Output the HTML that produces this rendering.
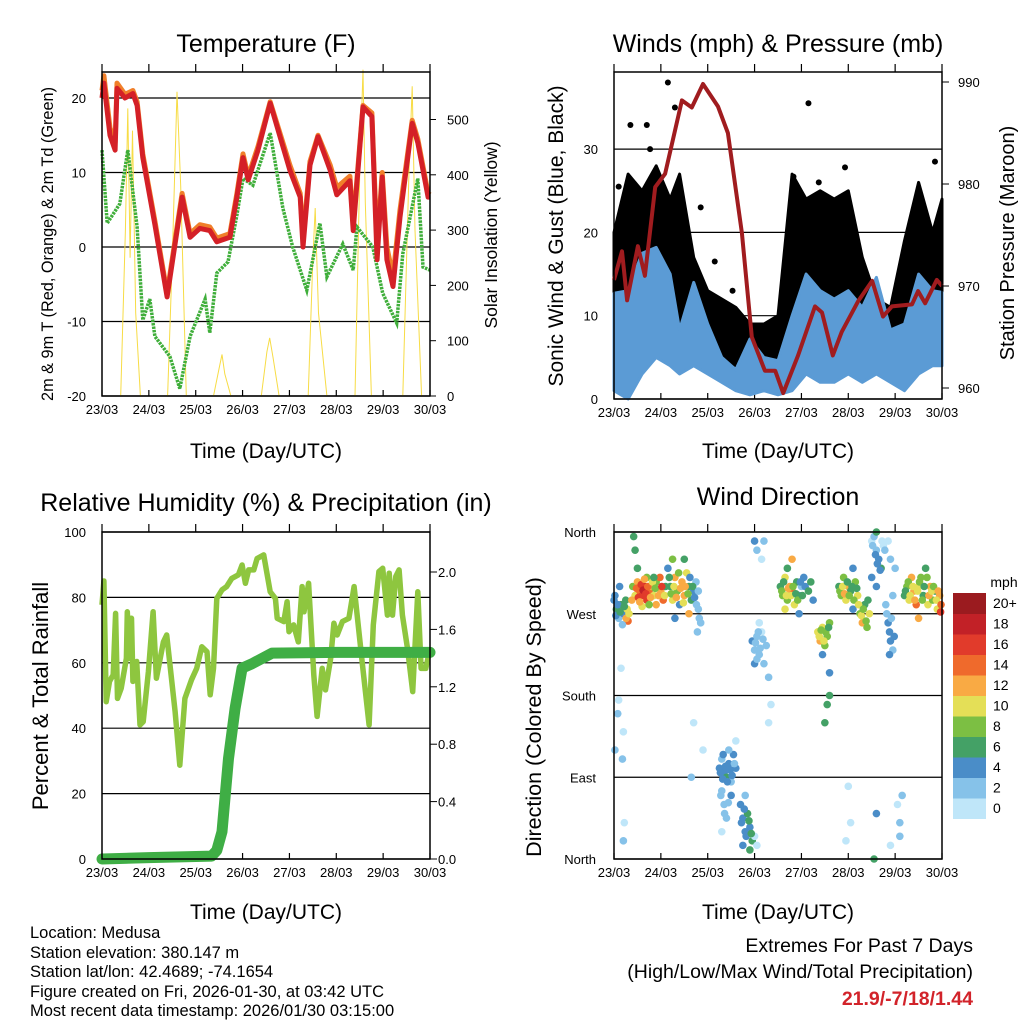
<!DOCTYPE html>
<html><head><meta charset="utf-8">
<style>
html,body{margin:0;padding:0;background:#fff;}
svg{display:block;font-family:"Liberation Sans",sans-serif;}
</style></head>
<body>
<svg id="fig" width="1024" height="1024" viewBox="0 0 1024 1024">
<rect x="0" y="0" width="1024" height="1024" fill="#fff"/>
<g id="layer"></g>
<g font-size="25" text-anchor="middle" fill="#000">
 <text x="266" y="52">Temperature (F)</text>
 <text x="778" y="52">Winds (mph) &amp; Pressure (mb)</text>
 <text x="266" y="511">Relative Humidity (%) &amp; Precipitation (in)</text>
 <text x="778" y="505">Wind Direction</text>
</g>
<g font-size="21" text-anchor="middle">
 <text x="266" y="458">Time (Day/UTC)</text>
 <text x="778" y="458">Time (Day/UTC)</text>
 <text x="266" y="919">Time (Day/UTC)</text>
 <text x="778" y="919">Time (Day/UTC)</text>
 <text transform="translate(53,244) rotate(-90)" font-size="16.3">2m &amp; 9m T (Red, Orange) &amp; 2m Td (Green)</text>
 <text transform="translate(497,235) rotate(-90)" font-size="17.5">Solar Insolation (Yellow)</text>
 <text transform="translate(563,236) rotate(-90)">Sonic Wind &amp; Gust (Blue, Black)</text>
 <text transform="translate(1014,243) rotate(-90)" font-size="20">Station Pressure (Maroon)</text>
 <text transform="translate(48,696) rotate(-90)" font-size="22">Percent &amp; Total Rainfall</text>
 <text transform="translate(541,717) rotate(-90)" font-size="21.5">Direction (Colored By Speed)</text>
</g>
<g font-size="16.5">
 <text x="30" y="938">Location: Medusa</text>
 <text x="30" y="958">Station elevation: 380.147 m</text>
 <text x="30" y="977">Station lat/lon: 42.4689; -74.1654</text>
 <text x="30" y="997">Figure created on Fri, 2026-01-30, at 03:42 UTC</text>
 <text x="30" y="1016">Most recent data timestamp: 2026/01/30 03:15:00</text>
</g>
<g font-size="19.5" text-anchor="end">
 <text x="973" y="952">Extremes For Past 7 Days</text>
 <text x="973" y="978">(High/Low/Max Wind/Total Precipitation)</text>
 <text x="973" y="1005" fill="#d2232a" font-weight="bold">21.9/-7/18/1.44</text>
</g>
</svg>
<script>
// ---------- data ----------
const dayLabels=['23/03','24/03','25/03','26/03','27/03','28/03','29/03','30/03'];
// Temperature (days since 23/03 00 UTC)
const tT=[0,0.04,0.17,0.28,0.32,0.49,0.66,0.75,0.87,1.13,1.39,1.71,1.88,2.09,2.3,2.45,2.73,2.88,3.01,3.12,3.33,3.59,4.01,4.23,4.29,4.44,4.61,4.87,5.01,5.29,5.36,5.57,5.76,5.87,5.98,6.08,6.21,6.36,6.62,6.74,6.96,7.0];
const tRed=[20,22,15,13,21.3,20,20.6,19,12,3,-6.7,6.7,1.3,2.5,2.2,0.7,1.3,6.7,12,9,13,19.3,10.3,6.7,0,11,14.8,10.3,7,8.9,2.2,18.8,17.5,-1.7,9.4,-1.7,-5.3,4,16.6,14,6.7,6.7];
const tOrange=[21,23,16,14,22,20.5,21,19.5,12.5,3.5,-6.2,7.2,1.8,3,2.7,1.2,1.8,7.2,12.5,9.5,13.5,19.5,11,7.2,1,11.5,15,11,8,9.5,3,19,18,0,10,0,-4,5,17,14.5,7.2,7];
const tdT=[0,0.11,0.38,0.55,0.75,0.87,1.02,1.13,1.45,1.66,1.88,2.2,2.3,2.45,2.69,2.88,3.01,3.22,3.59,3.86,4.07,4.37,4.65,4.8,5.14,5.36,5.44,5.78,5.99,6.29,6.42,6.74,6.85,7.0];
const tdV=[13,3.2,5.8,13,2.7,-9.8,-7,-12,-14.7,-19,-12,-7,-11.5,-3.5,-2,4.3,9.2,8.3,15.3,5.2,0,-5.8,3.2,-4,0.4,-3.1,2.7,0,-6.2,-10.2,-0.9,9.2,-2.7,-3.1];
const solT=[0,0.4,0.5,0.55,0.6,0.65,0.72,0.82,1.4,1.5,1.6,1.68,1.8,2.38,2.5,2.56,2.62,2.75,3.4,3.52,3.58,3.65,3.78,4.4,4.5,4.55,4.62,4.8,5.4,5.5,5.57,5.62,5.75,6.42,6.55,6.62,6.68,6.82,7.0];
const solV=[0,0,300,520,250,480,150,0,0,250,550,380,0,0,50,75,40,0,0,80,105,70,0,0,250,340,150,0,0,400,590,350,0,0,400,560,300,0,0];
// Winds
const prT=[0,0.17,0.28,0.51,0.66,0.88,1.09,1.45,1.66,1.9,2.22,2.43,2.73,2.94,3.22,3.44,3.61,3.93,4.29,4.44,4.67,4.86,5.21,5.51,5.74,5.93,6.36,6.49,6.64,6.89,7.0];
const prV=[970.6,973.4,968.6,973.9,971,979.7,981,988.2,987.5,989.8,987.6,985,975.2,965,961.7,961.7,959.5,963.2,968,967.4,963.2,965.5,968.5,970.5,967,968,968.2,969.5,968.3,970.6,970];
const wT=[0,0.3,0.6,0.9,1.2,1.4,1.7,2.0,2.3,2.6,2.9,3.2,3.5,3.8,4.1,4.4,4.7,5.0,5.3,5.6,5.9,6.2,6.5,6.8,7.0];
const windHi=[12.7,13,17.5,18.2,15,8.3,14,9,5,3.5,7.2,5,4.6,10,15,13,12,13,11,14.6,8.3,9,15,13,12.8];
const windLo=[1,0,3,5,4,3,4,3,2,1,0.5,1,0.5,1,3,2,2,3,2,3,2,1,3,4,4];
const gustHi=[20,27,25,28,24,27,17,13,12,11,9,9,10,27,24,25,24,25,17,12,11,19,26,20,24];
const gustLo=[8,11,14,14,12,9,11,6,5,4,5,3,4,10,12,11,10,10,9,11,7,6,12,10,10];
const gOutT=[0.35,0.7,1.15,0.77,2.53,4.15,3.83,4.37,4.93,6.85,0.1,1.3,2.15,1.85];
const gOutV=[32.9,32.9,38,30,13,35.5,26.7,26,27.8,28.5,25.5,35,16.5,23];
// Relative humidity & rain
const rhT=[0,.04,.09,.16,.24,.29,.33,.41,.52,.54,
.59,.63,.66,.74,.81,.88,.99,1.09,1.16,1.31,
1.38,1.56,1.66,1.77,1.91,2.02,2.13,2.24,2.31,2.38,
2.45,2.56,2.66,2.77,2.91,2.99,3.06,3.13,3.24,3.31,
3.45,3.59,3.7,3.74,3.88,3.95,3.99,4.09,4.19,4.27,
4.31,4.41,4.52,4.59,4.7,4.77,4.88,4.95,5.02,5.13,
5.27,5.38,5.56,5.7,5.79,5.91,5.99,6.09,6.13,6.2,
6.27,6.34,6.41,6.52,6.63,6.74,6.81,6.91,7.0];
const rhV=[77.7,85,48.1,54.3,56.3,75.1,49.1,52.2,61.4,75.6,
61.4,73.6,54.3,60.4,41,42,57.3,75.6,55.3,66.4,
68.5,45.1,28.7,49.1,54.8,58.3,64.9,63.4,50.2,58.3,
79.7,82.3,83.3,85.8,86.9,89.9,84.3,88.4,88.4,91.9,
93,81.7,79.7,73.6,72.6,78.7,69.5,71.6,66.4,83.3,
75.6,84.3,56.3,43.6,58.3,51.7,61.4,72.1,68.5,72.6,
73.6,83.3,59.3,41,71.6,87.9,88.9,74.6,87.4,74.6,
86.4,88.4,74.6,64.4,51.2,81.7,58.3,58.3,64.4];
const rainT=[0,1.0,2.34,2.45,2.56,2.7,2.84,2.99,3.2,3.63,5,7];
const rainV=[0,0.01,0.02,0.06,0.19,0.7,1.05,1.33,1.36,1.435,1.44,1.44];
// Wind direction scatter
const wdT=[0.02,0.05,0.1,0.15,0.2,0.25,0.3,0.28,0.12,0.18,
0.4,0.45,0.5,0.55,0.6,0.65,0.7,0.75,0.8,0.85,0.9,1.0,1.05,0.5,0.45,0.42,0.6,0.7,0.9,1.1,
1.15,1.2,1.25,1.3,1.35,1.4,1.45,1.5,1.55,1.6,1.65,1.7,1.75,1.8,1.85,1.25,1.5,1.6,1.78,1.3,
0.08,0.15,0.2,0.18,0.22,0.2,0.02,0.1,1.7,1.9,1.65,
2.95,3.0,3.05,3.1,3.15,3.2,3.25,3.1,3.0,3.3,3.35,3.3,3.0,3.05,3.15,3.2,
2.25,2.3,2.35,2.4,2.45,2.5,2.55,2.6,2.3,2.35,2.4,2.3,2.5,2.45,2.6,
2.7,2.75,2.8,2.85,2.9,2.95,2.8,2.9,3.0,3.05,
3.55,3.6,3.65,3.7,3.75,3.8,3.85,3.9,3.95,4.0,4.05,3.7,3.8,3.65,3.95,
4.35,4.4,4.45,4.5,4.55,4.6,4.45,4.6,4.6,4.55,4.5,
4.8,4.85,4.9,4.95,5.0,5.05,5.1,5.15,5.2,5.25,5.3,5.35,5.4,5.45,5.1,
5.5,5.55,5.6,5.65,5.7,5.5,5.6,5.75,5.85,5.9,5.8,5.85,5.9,5.95,5.95,6.0,5.6,
6.2,6.25,6.3,6.35,6.4,6.45,6.5,6.55,6.6,6.65,6.7,6.75,6.8,6.85,6.9,6.95,6.97,6.5,
6.05,6.1,6.15,6.1,5.9,5.6,5.55,5.0,5.05,4.95];
const wdD=[290,275,265,280,270,285,262,275,300,258,
300,290,305,295,290,300,285,295,300,290,305,295,285,320,340,355,278,310,280,300,
320,300,285,310,295,280,305,290,315,300,285,295,305,275,260,330,330,270,250,265,
160,210,140,110,40,20,120,175,150,120,90,
240,230,245,225,250,215,235,260,215,200,170,150,350,340,330,350,
100,110,95,90,105,85,115,100,75,60,45,30,70,120,130,
60,45,30,50,35,20,70,10,25,15,
300,290,310,285,300,295,280,305,290,300,310,320,330,275,270,
250,240,255,235,245,260,225,205,180,170,150,
300,290,310,285,300,295,275,305,290,270,260,280,255,270,320,
350,355,340,330,320,310,300,345,350,330,280,260,240,290,230,320,360,
290,300,285,310,295,280,300,310,290,320,280,300,285,295,275,290,272,265,
60,40,70,25,15,50,0,80,40,20];
const wdS=[4,6,3,7,5,6,14,10,5,3,
8,10,12,14,16,18,17,15,12,10,8,12,14,6,7,6,11,9,13,7,
5,7,10,12,8,4,13,12,10,6,7,4,3,2,2,9,6,12,3,4,
2,1,1,3,1,2,3,1,1,1,3,
4,2,3,2,1,3,2,1,4,2,1,1,4,3,1,2,
4,3,4,6,4,3,4,5,2,2,2,1,4,2,1,
4,5,4,6,5,6,3,6,1,1,
6,8,10,8,12,14,10,6,4,3,4,7,12,10,5,
10,12,10,8,9,8,4,4,6,6,6,
6,9,8,10,12,6,4,8,10,9,12,6,8,10,5,
1,2,3,4,6,5,4,1,1,2,2,4,4,3,2,2,6,
6,8,10,12,12,14,10,8,6,7,10,12,9,6,11,13,16,12,
1,2,3,2,1,4,7,1,1,1];
const wdT2=[0.38,0.48,0.52,0.58,0.62,0.68,0.72,0.78,0.82,0.88,0.95,0.98,1.02,1.08,0.55,0.65,0.75,0.85,
0.0,0.04,0.08,0.13,0.22,0.26,0.32,
1.18,1.22,1.28,1.33,1.38,1.42,1.48,1.52,1.58,1.62,1.68,1.72,1.76,1.82,1.8,
2.27,2.32,2.38,2.42,2.48,2.52,2.57,2.33,2.28,2.36,2.44,
2.72,2.78,2.82,2.88,2.93,2.75,
3.02,3.08,3.12,3.18,3.05,
3.58,3.62,3.68,3.72,3.78,3.82,3.88,3.92,3.98,4.02,4.08,4.15,4.2,4.25,
4.38,4.42,4.48,4.52,4.58,
4.82,4.88,4.92,4.98,5.02,5.08,5.12,5.18,5.22,5.28,5.32,5.38,5.42,
5.52,5.58,5.62,5.68,5.72,5.78,5.82,5.88,5.92,5.98,5.88,
6.22,6.28,6.32,6.38,6.42,6.48,6.52,6.58,6.62,6.68,6.72,6.78,6.82,6.88,6.92,6.98];
const wdD2=[285,298,288,302,296,292,300,288,305,298,290,310,300,290,283,308,280,310,
285,268,280,272,278,265,270,
310,292,300,288,315,298,282,300,292,310,300,288,280,265,295,
95,88,102,85,98,92,105,115,70,50,62,
40,55,25,42,28,15,
238,250,232,242,220,
295,305,290,298,290,300,292,285,305,290,300,295,305,285,
245,252,240,250,255,
295,300,292,305,290,300,285,298,280,268,275,262,285,
345,335,325,318,350,340,270,250,265,245,225,
295,305,290,300,285,295,305,285,300,310,290,295,300,285,295,280];
const wdS2=[12,14,16,17,18,16,15,13,11,9,12,14,16,10,13,12,9,7,
5,4,5,7,6,12,11,
6,8,11,13,9,12,11,13,8,5,6,4,3,2,3,
4,5,4,4,5,4,3,4,2,3,3,
4,5,4,6,6,4,
2,2,3,2,3,
8,7,10,12,10,8,6,8,4,6,5,6,7,5,
11,9,10,8,6,
8,10,12,6,8,7,9,6,11,10,8,9,6,
3,4,5,4,1,2,3,4,3,4,4,
7,9,11,10,12,11,9,8,6,9,12,11,8,10,12,14];
const cbLabels=['0','2','4','6','8','10','12','14','16','18','20+'];
const cbColors=['#bfe6f9','#86c2e9','#4a8dc8','#44a166','#7cbf43','#e4df57','#f9aa44','#ef6a2c','#e13b2b','#c22127','#9b1b1f'];

// ---------- helpers ----------
const NS='http://www.w3.org/2000/svg';
const layer=document.getElementById('layer');
function mk(tag,attrs,parent){const e=document.createElementNS(NS,tag);for(const k in attrs)e.setAttribute(k,attrs[k]);(parent||layer).appendChild(e);return e;}
const P1={x0:102,x1:430,y0:72,y1:396};
const P2={x0:614,x1:942,y0:72,y1:399};
const P3={x0:102,x1:430,y0:532,y1:859};
const P4={x0:614,x1:942,y0:532,y1:859};
function X(p,d){return p.x0+(p.x1-p.x0)*d/7;}
const yTemp=v=>247-7.45*v;
const ySol=v=>396-0.553*v;
const yWind=v=>399-8.33*v;
const yPres=v=>388-10.2*(v-960);
const yRH=v=>859-3.27*v;
const yRain=v=>859-143.5*v;
const yDir=v=>859-v*327/360;
function pathOf(p,ts,vs,f){return ts.map((t,i)=>(i?'L':'M')+X(p,t).toFixed(1)+','+f(vs[i]).toFixed(1)).join('');}
function band(p,ts,hi,lo,f){let s=ts.map((t,i)=>(i?'L':'M')+X(p,t).toFixed(1)+','+f(hi[i]).toFixed(1)).join('');for(let i=ts.length-1;i>=0;i--)s+='L'+X(p,ts[i]).toFixed(1)+','+f(lo[i]).toFixed(1);return s+'Z';}

function frame(p,name){
  const g=mk('g',{});
  
  
  dayLabels.forEach((lab,i)=>{
    const x=X(p,i);
    mk('line',{x1:x,x2:x,y1:p.y1,y2:p.y1-6,stroke:'#000','stroke-width':1.2},g);
    mk('line',{x1:x,x2:x,y1:p.y0,y2:p.y0-8,stroke:'#000','stroke-width':1.2},g);
    const t=mk('text',{x:x,y:p.y1+18,'font-size':13,'text-anchor':'middle'},g);
    t.textContent=lab;
    
    
  });
  return g;
}
function hgrid(p,y){mk('line',{x1:p.x0,x2:p.x1,y1:y,y2:y,stroke:'#000','stroke-width':1.2});}
function border(p,name){const r=mk('rect',{x:p.x0,y:p.y0,width:p.x1-p.x0,height:p.y1-p.y0,fill:'none',stroke:'#000','stroke-width':1.5});
  
  }
function lab(x,y,txt,anchor,name){const t=mk('text',{x:x,y:y,'font-size':13,'text-anchor':anchor});t.textContent=txt;
  
  }

// ---------- Panel 1: temperature ----------
frame(P1,'temperature');
[-20,-10,0,10,20].forEach(v=>{hgrid(P1,yTemp(v));lab(P1.x0-16,yTemp(v)+5,String(v),'end','temp-y-tick-label');});
[0,100,200,300,400,500].forEach(v=>{mk('line',{x1:P1.x1,x2:P1.x1+6,y1:ySol(v),y2:ySol(v),stroke:'#000'});lab(P1.x1+17,ySol(v)+5,String(v),'start','solar-y-tick-label');});
const sol=mk('path',{d:pathOf(P1,solT,solV,ySol),fill:'none',stroke:'#f7dc45','stroke-width':1});


const td=mk('path',{d:pathOf(P1,tdT,tdV,yTemp),fill:'none',stroke:'#3fae3a','stroke-width':3.5,'stroke-dasharray':'2.5 1'});


const tor=mk('path',{d:pathOf(P1,tT,tOrange,yTemp),fill:'none',stroke:'#f07f2a','stroke-width':5,'stroke-linejoin':'round'});


const tr=mk('path',{d:pathOf(P1,tT,tRed,yTemp),fill:'none',stroke:'#d42027','stroke-width':5,'stroke-linejoin':'round'});


border(P1,'temperature');

// ---------- Panel 2: winds ----------
frame(P2,'winds');
[0,10,20,30].forEach(v=>{hgrid(P2,yWind(v));lab(P2.x0-16,yWind(v)+5,String(v),'end','wind-y-tick-label');});
[960,970,980,990].forEach(v=>{mk('line',{x1:P2.x1,x2:P2.x1+7,y1:yPres(v),y2:yPres(v),stroke:'#000'});lab(P2.x1+16,yPres(v)+5,String(v),'start','pressure-y-tick-label');});
const gb=mk('path',{d:band(P2,wT,gustHi,gustLo,yWind),fill:'#000',stroke:'#000','stroke-width':3,'stroke-linejoin':'round'});


gOutT.forEach((t,i)=>{const c=mk('circle',{cx:X(P2,t),cy:yWind(gOutV[i]),r:3,fill:'#000'});
  
  });
const wb=mk('path',{d:band(P2,wT,windHi,windLo,yWind),fill:'#5b9bd5',stroke:'#5b9bd5','stroke-width':3,'stroke-linejoin':'round'});


const pr=mk('path',{d:pathOf(P2,prT,prV,yPres),fill:'none',stroke:'#a01c1f','stroke-width':4,'stroke-linejoin':'round'});


border(P2,'winds');

// ---------- Panel 3: RH & rain ----------
frame(P3,'humidity');
[0,20,40,60,80,100].forEach(v=>{hgrid(P3,yRH(v));lab(P3.x0-16,yRH(v)+5,String(v),'end','rh-y-tick-label');});
[0,0.4,0.8,1.2,1.6,2.0].forEach(v=>{mk('line',{x1:P3.x1,x2:P3.x1+7,y1:yRain(v),y2:yRain(v),stroke:'#000'});lab(P3.x1+8,yRain(v)+5,v.toFixed(1),'start','rain-y-tick-label');});
const rh=mk('path',{d:pathOf(P3,rhT,rhV,yRH),fill:'none',stroke:'#8ec63f','stroke-width':5.5,'stroke-linejoin':'round'});


const rn=mk('path',{d:pathOf(P3,rainT,rainV,yRain),fill:'none',stroke:'#3fae45','stroke-width':11,'stroke-linejoin':'round','stroke-linecap':'round'});


border(P3,'humidity');

// ---------- Panel 4: wind direction ----------
frame(P4,'direction');
const dirNames=['North','East','South','West','North'];
[0,90,180,270,360].forEach((v,i)=>{hgrid(P4,yDir(v));lab(P4.x0-18,yDir(v)+5,dirNames[i],'end','direction-y-tick-label');});
function colorFor(s){let k=Math.floor(s/2);if(k>10)k=10;if(k<0)k=0;return cbColors[k];}
wdT.forEach((t,i)=>{const c=mk('circle',{cx:X(P4,t),cy:yDir(wdD[i]),r:3.8,fill:colorFor(wdS[i])});
  
  });
wdT2.forEach((t,i)=>{const c=mk('circle',{cx:X(P4,t),cy:yDir(wdD2[i]),r:3.8,fill:colorFor(wdS2[i])});
  
  });
border(P4,'direction');
// colorbar
const cbTop=593,cbH=20.5;
const cbt=mk('text',{x:1004,y:587,'font-size':14,'text-anchor':'middle'});cbt.textContent='mph';


cbColors.forEach((c,i)=>{const k=10-i;const r=mk('rect',{x:953,y:cbTop+k*cbH,width:33,height:cbH+0.5,fill:c});
  
  
  const t=mk('text',{x:993,y:cbTop+k*cbH+15,'font-size':14});t.textContent=cbLabels[i];
  
  });
</script>
</body></html>
